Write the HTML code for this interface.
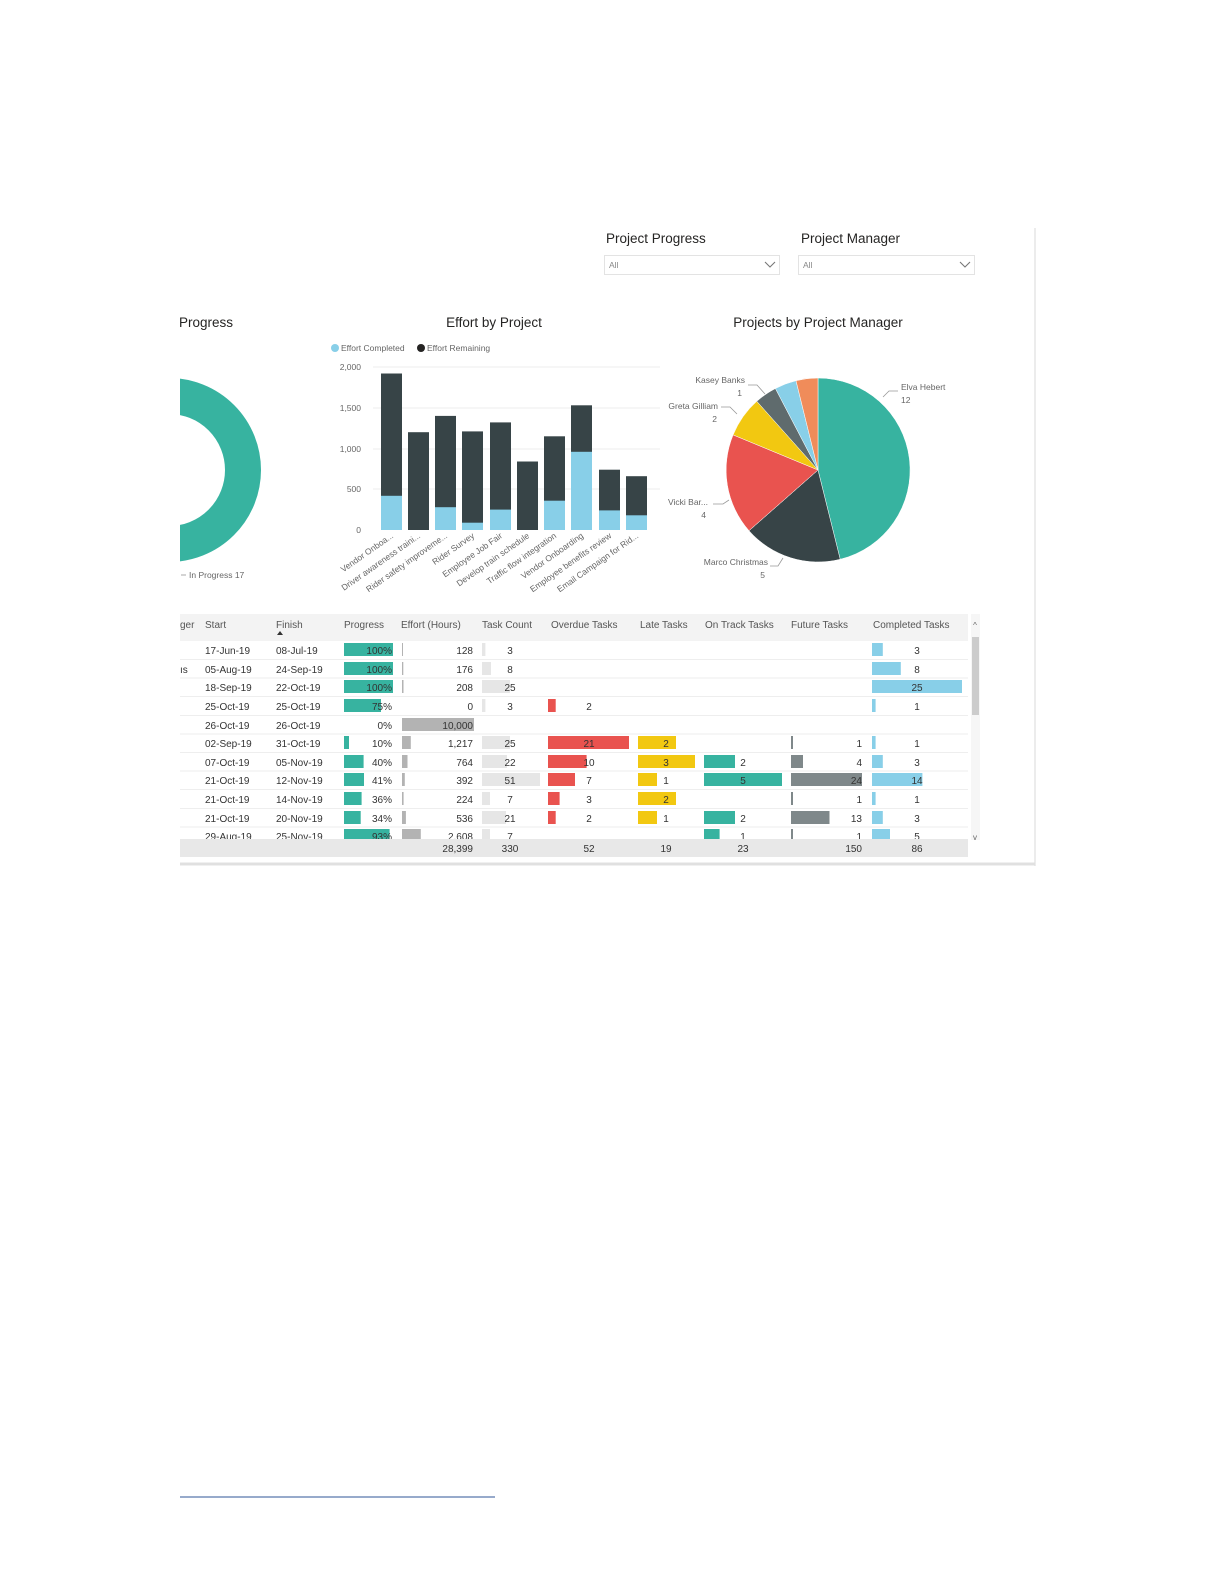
<!DOCTYPE html>
<html><head><meta charset="utf-8"><style>
html,body{margin:0;padding:0;background:#fff;width:1224px;height:1584px;overflow:hidden;}
svg{display:block;font-family:"Liberation Sans",sans-serif;}
</style></head><body>
<svg width="1224" height="1584" viewBox="0 0 1224 1584" xmlns="http://www.w3.org/2000/svg">
<rect width="1224" height="1584" fill="#fff"/>
<line x1="1035" y1="228" x2="1035" y2="866" stroke="#e6e6e6" stroke-width="1.5"/>
<line x1="180" y1="864" x2="1035" y2="864" stroke="#e0e0e0" stroke-width="3"/>

<text x="606" y="243" font-size="13.5" fill="#252423">Project Progress</text>
<rect x="604.5" y="255.5" width="175" height="19" fill="#fff" stroke="#e3e3e3"/>
<text x="609" y="268" font-size="8.5" fill="#888">All</text>
<polyline points="765,262 770,267 775,262" fill="none" stroke="#777" stroke-width="1.1"/>
<text x="801" y="243" font-size="13.5" fill="#252423">Project Manager</text>
<rect x="798.5" y="255.5" width="176" height="19" fill="#fff" stroke="#e3e3e3"/>
<text x="803" y="268" font-size="8.5" fill="#888">All</text>
<polyline points="960,262 965,267 970,262" fill="none" stroke="#777" stroke-width="1.1"/>

<defs><clipPath id="cl"><rect x="180" y="300" width="200" height="300"/></clipPath></defs>
<g clip-path="url(#cl)">
<circle cx="169" cy="470" r="74" fill="none" stroke="#37b3a0" stroke-width="36"/>
</g>
<text x="179" y="327" font-size="13.5" fill="#252423">Progress</text>
<line x1="181" y1="575" x2="186" y2="575" stroke="#aaa"/>
<text x="189" y="578" font-size="8.5" fill="#666">In Progress 17</text>

<text x="494" y="327" font-size="13.5" fill="#252423" text-anchor="middle">Effort by Project</text>
<circle cx="335" cy="348" r="4" fill="#88cfe8"/>
<text x="341" y="351" font-size="8.5" fill="#666">Effort Completed</text>
<circle cx="421" cy="348" r="4" fill="#252423"/>
<text x="427" y="351" font-size="8.5" fill="#666">Effort Remaining</text>
<g stroke="#eee" stroke-width="1">
<line x1="373" y1="367" x2="660" y2="367"/>
<line x1="373" y1="408" x2="660" y2="408"/>
<line x1="373" y1="449" x2="660" y2="449"/>
<line x1="373" y1="489" x2="660" y2="489"/>
</g>
<g font-size="8.5" fill="#666" text-anchor="end">
<text x="361" y="370">2,000</text><text x="361" y="411">1,500</text><text x="361" y="452">1,000</text><text x="361" y="492">500</text><text x="361" y="533">0</text>
</g>
<g>
<rect x="381" y="373.5" width="21" height="156.5" fill="#374447"/><rect x="381" y="495.8" width="21" height="34.2" fill="#88cfe8"/>
<rect x="408" y="432.2" width="21" height="97.8" fill="#374447"/>
<rect x="435" y="415.9" width="21" height="114.1" fill="#374447"/><rect x="435" y="507.2" width="21" height="22.8" fill="#88cfe8"/>
<rect x="462" y="431.4" width="21" height="98.6" fill="#374447"/><rect x="462" y="522.7" width="21" height="7.3" fill="#88cfe8"/>
<rect x="490" y="422.4" width="21" height="107.6" fill="#374447"/><rect x="490" y="509.6" width="21" height="20.4" fill="#88cfe8"/>
<rect x="517" y="461.5" width="21" height="68.5" fill="#374447"/>
<rect x="544" y="436.3" width="21" height="93.7" fill="#374447"/><rect x="544" y="500.7" width="21" height="29.3" fill="#88cfe8"/>
<rect x="571" y="405.3" width="21" height="124.7" fill="#374447"/><rect x="571" y="451.8" width="21" height="78.2" fill="#88cfe8"/>
<rect x="599" y="469.7" width="21" height="60.3" fill="#374447"/><rect x="599" y="510.4" width="21" height="19.6" fill="#88cfe8"/>
<rect x="626" y="476.2" width="21" height="53.8" fill="#374447"/><rect x="626" y="515.3" width="21" height="14.7" fill="#88cfe8"/>
</g>
<g font-size="8.5" fill="#666" text-anchor="end">
<text transform="translate(394,537) rotate(-35)">Vendor Onboa...</text>
<text transform="translate(421,537) rotate(-35)">Driver awareness traini...</text>
<text transform="translate(448,537) rotate(-35)">Rider safety improveme...</text>
<text transform="translate(475,537) rotate(-35)">Rider Survey</text>
<text transform="translate(503,537) rotate(-35)">Employee Job Fair</text>
<text transform="translate(530,537) rotate(-35)">Develop train schedule</text>
<text transform="translate(557,537) rotate(-35)">Traffic flow integration</text>
<text transform="translate(584,537) rotate(-35)">Vendor Onboarding</text>
<text transform="translate(612,537) rotate(-35)">Employee benefits review</text>
<text transform="translate(639,537) rotate(-35)">Email Campaign for Rid...</text>
</g>

<text x="818" y="327" font-size="13.5" fill="#252423" text-anchor="middle">Projects by Project Manager</text>
<g stroke="#fff" stroke-width="0.5">
<path d="M818,470 L818,378 A92,92 0 0 1 840.2,559.3 Z" fill="#37b3a0"/>
<path d="M818,470 L840.2,559.3 A92,92 0 0 1 749.0,530.7 Z" fill="#374447"/>
<path d="M818,470 L749.0,530.7 A92,92 0 0 1 733.1,434.9 Z" fill="#e9534f"/>
<path d="M818,470 L733.1,434.9 A92,92 0 0 1 756.8,401.3 Z" fill="#f2c811"/>
<path d="M818,470 L756.8,401.3 A92,92 0 0 1 775.4,388.5 Z" fill="#5f6b6d"/>
<path d="M818,470 L775.4,388.5 A92,92 0 0 1 796.0,380.7 Z" fill="#88cfe8"/>
<path d="M818,470 L796.0,380.7 A92,92 0 0 1 818,378 Z" fill="#f08c5a"/>
</g>
<g fill="none" stroke="#999" stroke-width="0.8">
<polyline points="883,397 889,391 898,391"/>
<polyline points="748,385 757,385 765,394"/>
<polyline points="721,407 730,407 737,414"/>
<polyline points="713,504 723,504 729,500"/>
<polyline points="770,566 778,566 783,558"/>
</g>
<g font-size="8.5" fill="#666">
<text x="901" y="390">Elva Hebert</text><text x="901" y="403">12</text>
<text x="745" y="383" text-anchor="end">Kasey Banks</text><text x="742" y="396" text-anchor="end">1</text>
<text x="718" y="409" text-anchor="end">Greta Gilliam</text><text x="717" y="422" text-anchor="end">2</text>
<text x="708" y="505" text-anchor="end">Vicki Bar...</text><text x="706" y="518" text-anchor="end">4</text>
<text x="768" y="565" text-anchor="end">Marco Christmas</text><text x="765" y="578" text-anchor="end">5</text>
</g>

<rect x="180" y="614" width="788" height="27" fill="#f3f3f3"/>
<g font-size="10" fill="#555">
<text x="180" y="628">ger</text><text x="205" y="628">Start</text><text x="276" y="628">Finish</text>
<text x="344" y="628">Progress</text><text x="401" y="628">Effort (Hours)</text><text x="482" y="628">Task Count</text>
<text x="551" y="628">Overdue Tasks</text><text x="640" y="628">Late Tasks</text><text x="705" y="628">On Track Tasks</text>
<text x="791" y="628">Future Tasks</text><text x="873" y="628">Completed Tasks</text>
</g>
<path d="M277,635 L280,631 L283,635 Z" fill="#333"/>
<rect x="971" y="614" width="9" height="226" fill="#f6f6f6"/>
<rect x="972" y="637" width="7" height="78" fill="#ccc"/>
<text x="975" y="628" font-size="8" fill="#666" text-anchor="middle">^</text>
<text x="975" y="840" font-size="8" fill="#666" text-anchor="middle">v</text>
<g stroke="#eee"><line x1="180" y1="659.5" x2="968" y2="659.5"/><line x1="180" y1="678" x2="968" y2="678"/><line x1="180" y1="696.5" x2="968" y2="696.5"/><line x1="180" y1="715.5" x2="968" y2="715.5"/><line x1="180" y1="734" x2="968" y2="734"/><line x1="180" y1="752.5" x2="968" y2="752.5"/><line x1="180" y1="771" x2="968" y2="771"/><line x1="180" y1="789.5" x2="968" y2="789.5"/><line x1="180" y1="808.5" x2="968" y2="808.5"/><line x1="180" y1="827" x2="968" y2="827"/></g>

<g font-size="10" fill="#333">
<text x="205" y="654">17-Jun-19</text><text x="276" y="654">08-Jul-19</text>
<text x="180" y="673">ıs</text><text x="205" y="673">05-Aug-19</text><text x="276" y="673">24-Sep-19</text>
<text x="205" y="691">18-Sep-19</text><text x="276" y="691">22-Oct-19</text>
<text x="205" y="710">25-Oct-19</text><text x="276" y="710">25-Oct-19</text>
<text x="205" y="729">26-Oct-19</text><text x="276" y="729">26-Oct-19</text>
<text x="205" y="747">02-Sep-19</text><text x="276" y="747">31-Oct-19</text>
<text x="205" y="766">07-Oct-19</text><text x="276" y="766">05-Nov-19</text>
<text x="205" y="784">21-Oct-19</text><text x="276" y="784">12-Nov-19</text>
<text x="205" y="803">21-Oct-19</text><text x="276" y="803">14-Nov-19</text>
<text x="205" y="822">21-Oct-19</text><text x="276" y="822">20-Nov-19</text>
<text x="205" y="840">29-Aug-19</text><text x="276" y="840">25-Nov-19</text>
</g>

<g fill="#37b3a0">
<rect x="344" y="643" width="49" height="13"/><rect x="344" y="662" width="49" height="13"/><rect x="344" y="680" width="49" height="13"/>
<rect x="344" y="699" width="37" height="13"/><rect x="344" y="736" width="5" height="13"/><rect x="344" y="755" width="19.6" height="13"/>
<rect x="344" y="773" width="20" height="13"/><rect x="344" y="792" width="17.6" height="13"/><rect x="344" y="811" width="16.7" height="13"/>
<rect x="344" y="829" width="45.6" height="13"/>
</g>
<g fill="#b3b3b3">
<rect x="402" y="643" width="1" height="13"/><rect x="402" y="662" width="1.3" height="13"/><rect x="402" y="680" width="1.5" height="13"/>
<rect x="402" y="718" width="72" height="13"/><rect x="402" y="736" width="8.8" height="13"/><rect x="402" y="755" width="5.5" height="13"/>
<rect x="402" y="773" width="2.8" height="13"/><rect x="402" y="792" width="1.6" height="13"/><rect x="402" y="811" width="3.9" height="13"/>
<rect x="402" y="829" width="18.8" height="13"/>
</g>
<g fill="#e6e6e6">
<rect x="482" y="643" width="3.4" height="13"/><rect x="482" y="662" width="9" height="13"/><rect x="482" y="680" width="28" height="13"/>
<rect x="482" y="699" width="3.4" height="13"/><rect x="482" y="736" width="28" height="13"/><rect x="482" y="755" width="25" height="13"/>
<rect x="482" y="773" width="58" height="13"/><rect x="482" y="792" width="8" height="13"/><rect x="482" y="811" width="24" height="13"/>
<rect x="482" y="829" width="8" height="13"/>
</g>
<g fill="#e9534f">
<rect x="548" y="699" width="7.7" height="13"/><rect x="548" y="736" width="81" height="13"/><rect x="548" y="755" width="38.6" height="13"/>
<rect x="548" y="773" width="27" height="13"/><rect x="548" y="792" width="11.6" height="13"/><rect x="548" y="811" width="7.7" height="13"/>
</g>
<g fill="#f2c811">
<rect x="638" y="736" width="38" height="13"/><rect x="638" y="755" width="57" height="13"/><rect x="638" y="773" width="19" height="13"/>
<rect x="638" y="792" width="38" height="13"/><rect x="638" y="811" width="19" height="13"/>
</g>
<g fill="#37b3a0">
<rect x="704" y="755" width="31" height="13"/><rect x="704" y="773" width="78" height="13"/><rect x="704" y="811" width="31" height="13"/><rect x="704" y="829" width="15.6" height="13"/>
</g>
<g fill="#7f888a">
<rect x="791" y="736" width="2" height="13"/><rect x="791" y="755" width="12" height="13"/><rect x="791" y="773" width="71" height="13"/>
<rect x="791" y="792" width="2" height="13"/><rect x="791" y="811" width="38.5" height="13"/><rect x="791" y="829" width="2" height="13"/>
</g>
<g fill="#88cfe8">
<rect x="872" y="643" width="10.8" height="13"/><rect x="872" y="662" width="28.8" height="13"/><rect x="872" y="680" width="90" height="13"/>
<rect x="872" y="699" width="3.6" height="13"/><rect x="872" y="736" width="3.6" height="13"/><rect x="872" y="755" width="10.8" height="13"/>
<rect x="872" y="773" width="50.4" height="13"/><rect x="872" y="792" width="3.6" height="13"/><rect x="872" y="811" width="10.8" height="13"/>
<rect x="872" y="829" width="18" height="13"/>
</g>

<g font-size="10" fill="#333">
<g text-anchor="end">
<text x="392" y="654">100%</text><text x="392" y="673">100%</text><text x="392" y="691">100%</text><text x="392" y="710">75%</text><text x="392" y="729">0%</text><text x="392" y="747">10%</text><text x="392" y="766">40%</text><text x="392" y="784">41%</text><text x="392" y="803">36%</text><text x="392" y="822">34%</text><text x="392" y="840">93%</text>
<text x="473" y="654">128</text><text x="473" y="673">176</text><text x="473" y="691">208</text><text x="473" y="710">0</text><text x="473" y="729">10,000</text><text x="473" y="747">1,217</text><text x="473" y="766">764</text><text x="473" y="784">392</text><text x="473" y="803">224</text><text x="473" y="822">536</text><text x="473" y="840">2,608</text>
<text x="862" y="747">1</text><text x="862" y="766">4</text><text x="862" y="784">24</text><text x="862" y="803">1</text><text x="862" y="822">13</text><text x="862" y="840">1</text>
</g>
<g text-anchor="middle">
<text x="510" y="654">3</text><text x="510" y="673">8</text><text x="510" y="691">25</text><text x="510" y="710">3</text><text x="510" y="747">25</text><text x="510" y="766">22</text><text x="510" y="784">51</text><text x="510" y="803">7</text><text x="510" y="822">21</text><text x="510" y="840">7</text>
<text x="589" y="710">2</text><text x="589" y="747">21</text><text x="589" y="766">10</text><text x="589" y="784">7</text><text x="589" y="803">3</text><text x="589" y="822">2</text>
<text x="666" y="747">2</text><text x="666" y="766">3</text><text x="666" y="784">1</text><text x="666" y="803">2</text><text x="666" y="822">1</text>
<text x="743" y="766">2</text><text x="743" y="784">5</text><text x="743" y="822">2</text><text x="743" y="840">1</text>
<text x="917" y="654">3</text><text x="917" y="673">8</text><text x="917" y="691">25</text><text x="917" y="710">1</text><text x="917" y="747">1</text><text x="917" y="766">3</text><text x="917" y="784">14</text><text x="917" y="803">1</text><text x="917" y="822">3</text><text x="917" y="840">5</text>
</g>
</g>
<rect x="180" y="839" width="788" height="18" fill="#e8e8e8"/>
<g font-size="10" fill="#333">
<text x="473" y="852" text-anchor="end">28,399</text>
<text x="510" y="852" text-anchor="middle">330</text>
<text x="589" y="852" text-anchor="middle">52</text>
<text x="666" y="852" text-anchor="middle">19</text>
<text x="743" y="852" text-anchor="middle">23</text>
<text x="862" y="852" text-anchor="end">150</text>
<text x="917" y="852" text-anchor="middle">86</text>
</g>

<line x1="180" y1="1497" x2="495" y2="1497" stroke="#2f5597" stroke-width="1"/>
</svg>
</body></html>
